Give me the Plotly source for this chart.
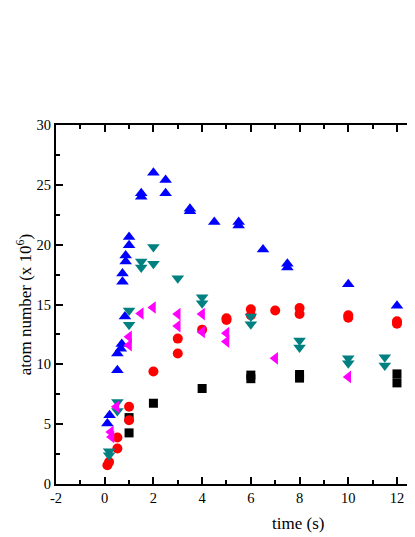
import plotly.graph_objects as go

# dane ---------------------------------------------------------------------------
sq_x = [1, 1, 2, 4, 6, 6, 8, 8, 12, 12]
sq_y = [5.55, 4.27, 6.75, 7.98, 8.8, 9.1, 8.85, 9.15, 9.2, 8.45]

circ_x = [0.11, 0.18, 0.52, 0.52, 1, 1, 2, 3, 3, 4, 5, 5, 6, 6, 7, 8, 8, 10, 10, 12, 12]
circ_y = [1.57, 1.84, 2.96, 3.88, 5.33, 6.45, 9.4, 10.9, 12.15, 12.9, 13.7, 13.85,
          14.6, 14.1, 14.5, 14.7, 14.2, 14.1, 13.9, 13.6, 13.4]

up_x = [0.11, 0.2, 0.52, 0.52, 0.66, 0.7, 0.83, 0.73, 0.73, 0.86, 0.86, 1.0, 1.0,
        1.5, 1.5, 2.0, 2.5, 2.5, 3.5, 3.5, 4.5, 5.5, 5.5, 6.5, 7.5, 7.5, 10, 12]
up_y = [5.05, 5.75, 9.5, 10.9, 11.3, 11.7, 14.0, 16.9, 17.6, 18.6, 19.1, 19.96, 20.65,
        24.0, 24.3, 26.0, 25.4, 24.3, 22.8, 23.0, 21.9, 21.6, 21.9, 19.6, 18.1, 18.4, 16.7, 14.9]

down_x = [0.18, 0.18, 0.52, 0.52, 1.0, 1.0, 1.5, 1.5, 2.0, 2.0, 3.0, 4.0, 4.0,
          6.0, 6.0, 8.0, 8.0, 10, 10, 11.5, 11.5]
down_y = [2.73, 2.4, 6.85, 6.1, 14.5, 13.3, 18.6, 18.1, 19.8, 18.4, 17.2, 15.6, 15.1,
          14.0, 13.35, 12.0, 11.4, 10.5, 10.1, 10.6, 9.9]

left_x = [0.25, 0.28, 0.48, 1.0, 1.0, 1.48, 1.98, 3.0, 3.0, 4.0, 4.0, 5.0, 5.0, 7.0, 10, 12.9]
left_y = [4.35, 3.93, 6.45, 12.3, 11.6, 14.25, 14.75, 14.2, 13.2, 14.2, 12.7, 12.6, 11.9,
          10.5, 8.95, 8.2]

x_ticki = [-2, 0, 2, 4, 6, 8, 10, 12]
x_etykiety = ['-2', '0', '2', '4', '6', '8', '10', '12']
y_ticki = [0, 5, 10, 15, 20, 25, 30]

# rysowanie ------------------------------------------------------------------------
fig = go.Figure()

serie = [
    (sq_x, sq_y, 'square', '#000000', 9),
    (circ_x, circ_y, 'circle', '#FF0000', 10),
    (up_x, up_y, 'triangle-up', '#0000FF', 11),
    (down_x, down_y, 'triangle-down', '#008080', 11),
    (left_x, left_y, 'triangle-left', '#FF00FF', 11),
]
for xs, ys, sym, kolor, rozm in serie:
    fig.add_trace(go.Scatter(
        x=xs, y=ys, mode='markers',
        marker=dict(symbol=sym, color=kolor, size=rozm, line=dict(width=0)),
        showlegend=False, cliponaxis=True
    ))

czcionka = dict(family='Liberation Serif', size=14.5, color='black')
tytul = dict(family='Liberation Serif', size=17, color='black')

# strona ma 8px marginesu w body, wiec figura jest przesunieta i mniejsza
fig.update_layout(
    width=407, height=529,
    margin=dict(l=48, r=0, t=117, b=53),
    plot_bgcolor='white', paper_bgcolor='white',
    font=czcionka,
    xaxis=dict(
        range=[-2, 12.74], tickmode='array', tickvals=x_ticki, ticktext=x_etykiety,
        showline=True, linecolor='black', linewidth=2, mirror='ticks',
        ticks='inside', ticklen=7, tickwidth=1.5, tickcolor='black',
        minor=dict(ticks='inside', ticklen=4, tickwidth=1.5, tickcolor='black',
                   tickmode='linear', tick0=-2, dtick=1),
        showgrid=False, zeroline=False, tickfont=czcionka
    ),
    yaxis=dict(
        range=[0, 30], tickmode='array', tickvals=y_ticki,
        showline=True, linecolor='black', linewidth=2, mirror=False,
        ticks='inside', ticklen=7, tickwidth=1.5, tickcolor='black',
        minor=dict(ticks='inside', ticklen=4, tickwidth=1.5, tickcolor='black',
                   tickmode='linear', tick0=0, dtick=2.5),
        showgrid=False, zeroline=False, tickfont=czcionka,
        title=dict(text='atom number (x 10<sup>6</sup>)', font=tytul, standoff=1)
    ),
    annotations=[dict(
        text='time (s)', xref='paper', yref='paper', x=0.674, y=-0.11,
        xanchor='center', yanchor='middle', showarrow=False, font=tytul
    )]
)

fig.write_html("out.html")
